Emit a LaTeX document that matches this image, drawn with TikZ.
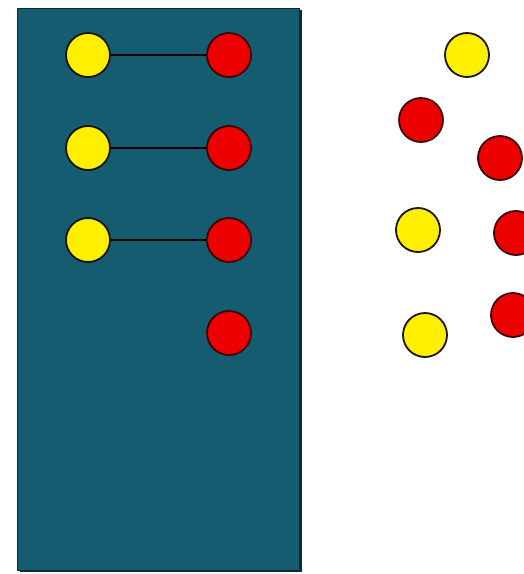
\documentclass[tikz,border=0pt]{standalone}
\definecolor{tealbg}{RGB}{22,92,112}
\definecolor{tealedge}{RGB}{14,40,60}
\definecolor{dotyellow}{RGB}{255,240,0}
\definecolor{dotred}{RGB}{236,0,0}
\tikzset{
  dot/.style={circle,draw=black!85!brown,line width=1.8pt,minimum size=44pt,inner sep=0pt},
  yellowdot/.style={dot,fill=dotyellow},
  reddot/.style={dot,fill=dotred,draw=black!75!red},
  bond/.style={line width=1.8pt,black}
}
\begin{document}
\begin{tikzpicture}[x=1pt,y=-1pt]
\useasboundingbox (0,0) rectangle (524,574);
\clip (0,0) rectangle (524,574);
% Panel
\fill[tealedge] (20,10) rectangle (302,572);
\draw[tealedge,fill=tealbg,line width=0.8pt] (17,8) rectangle (299,570);

% Bound pairs: (y)
\foreach \y/\n in {55/1,148/2,240/3} {
    \node[yellowdot] (y\n) at (88,\y) {};
    \node[reddot] (r\n) at (229,\y) {};
    \draw[bond] (y\n) -- (r\n);
}
\node[reddot] (r4) at (229,333) {};

% Free ones
\node[yellowdot] (fy1) at (467,55) {};
\node[reddot] (fr1) at (421,120) {};
\node[reddot] (fr2) at (500,158) {};
\node[yellowdot] (fy2) at (418,230) {};
\node[reddot] (fr3) at (516,233) {};
\node[reddot] (fr4) at (513,315) {};
\node[yellowdot] (fy3) at (425,335) {};
\end{tikzpicture}
\end{document}
